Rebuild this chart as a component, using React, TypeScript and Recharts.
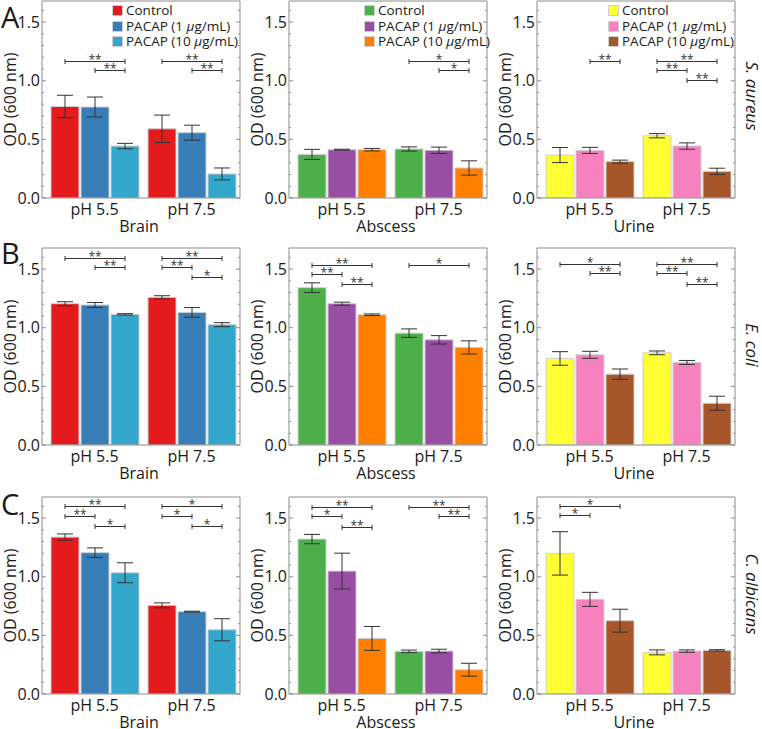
import React from "react";
import { BarChart, Bar, XAxis, YAxis, ErrorBar, Legend } from "recharts";

const categories = ["pH 5.5", "pH 7.5"];
const seriesNames = ["Control", "PACAP (1 μg/mL)", "PACAP (10 μg/mL)"];
const sites = ["Brain", "Abscess", "Urine"];
const species = ["S. aureus", "E. coli", "C. albicans"];
const panelLetters = ["A", "B", "C"];

const brainColors = ["#e41a1c", "#377eb8", "#33a6cc"];
const abscessColors = ["#4daf4a", "#984ea3", "#ff7f00"];
const urineColors = ["#ffff33", "#f781bf", "#a65628"];

const yTicks = [0, 0.1, 0.2, 0.3, 0.4, 0.5, 0.6, 0.7, 0.8, 0.9, 1.0, 1.1, 1.2, 1.3, 1.4, 1.5, 1.6];

// series-major: [control, pacap 1, pacap 10], each [pH 5.5, pH 7.5]
const aBrainMean = [[0.78, 0.59], [0.776, 0.557], [0.443, 0.205]];
const aBrainErr = [[0.096, 0.117], [0.085, 0.064], [0.023, 0.051]];
const aAbscessMean = [[0.372, 0.418], [0.412, 0.407], [0.412, 0.256]];
const aAbscessErr = [[0.043, 0.018], [0.004, 0.027], [0.011, 0.061]];
const aUrineMean = [[0.366, 0.531], [0.406, 0.443], [0.31, 0.227]];
const aUrineErr = [[0.064, 0.018], [0.026, 0.027], [0.013, 0.027]];

const bBrainMean = [[1.205, 1.259], [1.194, 1.131], [1.114, 1.026]];
const bBrainErr = [[0.017, 0.014], [0.021, 0.041], [0.006, 0.017]];
const bAbscessMean = [[1.342, 0.954], [1.205, 0.897], [1.111, 0.832]];
const bAbscessErr = [[0.041, 0.036], [0.013, 0.036], [0.007, 0.056]];
const bUrineMean = [[0.738, 0.786], [0.769, 0.704], [0.604, 0.356]];
const bUrineErr = [[0.058, 0.016], [0.03, 0.017], [0.044, 0.06]];

const cBrainMean = [[1.338, 0.756], [1.205, 0.702], [1.034, 0.548]];
const cBrainErr = [[0.027, 0.021], [0.041, 0.004], [0.085, 0.094]];
const cAbscessMean = [[1.321, 0.364], [1.048, 0.366], [0.474, 0.207]];
const cAbscessErr = [[0.04, 0.011], [0.153, 0.016], [0.102, 0.055]];
const cUrineMean = [[1.199, 0.355], [0.807, 0.366], [0.625, 0.372]];
const cUrineErr = [[0.185, 0.021], [0.06, 0.01], [0.098, 0.006]];

// significance brackets: [category, fromBar, toBar, height, stars]
type Bracket = [number, number, number, number, string];
const aBrainSig: Bracket[] = [[0, 0, 2, 1.17, "**"], [0, 1, 2, 1.094, "**"], [1, 0, 2, 1.17, "**"], [1, 1, 2, 1.094, "**"]];
const aAbscessSig: Bracket[] = [[1, 0, 2, 1.17, "*"], [1, 1, 2, 1.094, "*"]];
const aUrineSig: Bracket[] = [[0, 1, 2, 1.17, "**"], [1, 0, 2, 1.17, "**"], [1, 0, 1, 1.094, "**"], [1, 1, 2, 1.003, "**"]];
const bBrainSig: Bracket[] = [[0, 0, 2, 1.595, "**"], [0, 1, 2, 1.518, "**"], [1, 0, 2, 1.595, "**"], [1, 0, 1, 1.518, "**"], [1, 1, 2, 1.433, "*"]];
const bAbscessSig: Bracket[] = [[0, 0, 2, 1.538, "**"], [0, 0, 1, 1.462, "**"], [0, 1, 2, 1.373, "**"], [1, 0, 2, 1.538, "*"]];
const bUrineSig: Bracket[] = [[0, 0, 2, 1.547, "*"], [0, 1, 2, 1.47, "**"], [1, 0, 2, 1.547, "**"], [1, 0, 1, 1.47, "**"], [1, 1, 2, 1.376, "**"]];
const cBrainSig: Bracket[] = [[0, 0, 2, 1.6, "**"], [0, 0, 1, 1.52, "**"], [0, 1, 2, 1.429, "*"], [1, 0, 2, 1.6, "*"], [1, 0, 1, 1.52, "*"], [1, 1, 2, 1.429, "*"]];
const cAbscessSig: Bracket[] = [[0, 0, 2, 1.597, "**"], [0, 0, 1, 1.517, "*"], [0, 1, 2, 1.42, "**"], [1, 0, 2, 1.597, "**"], [1, 1, 2, 1.52, "**"]];
const cUrineSig: Bracket[] = [[0, 0, 2, 1.602, "*"], [0, 0, 1, 1.526, "*"]];

const FONT = "'Open Sans', 'Noto Sans', sans-serif";
const INK = "#1a1a1a";
const FRAME = "#8c8c8c";
const SIG = "#333";
const PLOT_W = 198;
const PLOT_H = 197;
const AXIS_W = 45;
const AXIS_H = 45;
const Y_MAX = 1.68;
const PAD_L = 4;
const BAR = 28;
const GAP = 2;

const colLefts = [42, 289, 537];
const rowTops = [1, 248, 497];
const legendOffsets = [70, 75, 71];

const withMu = (s: string) => {
  const parts = s.split("μ");
  if (parts.length < 2) return s;
  return (
    <>
      {parts[0]}
      <i>μ</i>
      {parts[1]}
    </>
  );
};

const renderLegend = (props: any) => (
  <div style={{ fontFamily: FONT, fontSize: 13.5, color: INK, lineHeight: "15.5px" }}>
    {(props.payload || []).map((e: any, i: number) => (
      <div key={i} style={{ display: "flex", alignItems: "center", whiteSpace: "nowrap" }}>
        <span
          style={{
            display: "inline-block",
            width: 11,
            height: 11,
            background: e.color,
            border: "1px solid #d0d0d0",
            boxSizing: "border-box",
            marginRight: 3,
          }}
        />
        <span>{withMu(e.value)}</span>
      </div>
    ))}
  </div>
);

const makeYTick = (plotW: number) => (props: any) => {
  const { x, y, payload } = props;
  const v = payload.value;
  const major = Math.abs(v * 2 - Math.round(v * 2)) < 1e-6;
  const len = major ? 4 : 2;
  return (
    <g>
      <line x1={AXIS_W} x2={AXIS_W + len} y1={y} y2={y} stroke={FRAME} strokeWidth={1} />
      <line x1={AXIS_W + plotW - len} x2={AXIS_W + plotW} y1={y} y2={y} stroke={FRAME} strokeWidth={1} />
      {major && (
        <text x={x} y={y} dy="0.36em" textAnchor="end" fill={INK} fontSize={16} fontFamily={FONT}>
          {v.toFixed(1)}
        </text>
      )}
    </g>
  );
};

// brackets start at bar `k` of a category; the y position comes from the bar's own
// pixel height per unit, the other end from the bar spacing
const makeBracketLabel = (k: number, series: number[], brackets: Bracket[]) => (p: any) => {
  const vb = p.viewBox && p.viewBox.width !== undefined ? p.viewBox : p;
  const idx = typeof p.index === "number" ? p.index : series.indexOf(p.value);
  const list = brackets.filter(([cat, a]) => cat === idx && a === k);
  if (!list.length || !vb || !vb.height) return null;
  const base = vb.y + vb.height;
  const perUnit = vb.height / series[idx];
  const cx = vb.x + vb.width / 2;
  return (
    <g key={`br-${k}-${idx}`}>
      {list.map(([, a, b, h, stars], i) => {
        const x2 = cx + (b - a) * (vb.width + GAP);
        const py = Math.round(base - perUnit * h) + 0.5;
        return (
          <g key={i}>
            <line x1={cx} x2={x2} y1={py} y2={py} stroke={SIG} strokeWidth={1} />
            <line x1={cx} x2={cx} y1={py - 2.5} y2={py + 2.5} stroke={SIG} strokeWidth={1} />
            <line x1={x2} x2={x2} y1={py - 2.5} y2={py + 2.5} stroke={SIG} strokeWidth={1} />
            <text x={(cx + x2) / 2} y={py + 2} textAnchor="middle" fill={SIG} fontSize={12} fontFamily={FONT}>
              {stars}
            </text>
          </g>
        );
      })}
    </g>
  );
};

interface PanelProps {
  mean: number[][];
  err: number[][];
  colors: string[];
  site: string;
  brackets: Bracket[];
  left: number;
  top: number;
  legendX?: number;
}

function Panel({ mean, err, colors, site, brackets, left, top, legendX }: PanelProps) {
  const data = categories.map((c, i) => {
    const row: Record<string, string | number> = { cat: c };
    mean.forEach((s, k) => {
      row[`v${k}`] = s[i];
      row[`e${k}`] = err[k][i];
    });
    return row;
  });

  return (
    <div style={{ position: "absolute", left: left - AXIS_W, top: top - 1 }}>
      <BarChart
        width={AXIS_W + PLOT_W + 1}
        height={1 + PLOT_H + AXIS_H}
        data={data}
        margin={{ top: 0, right: 0, bottom: 0, left: 0 }}
        barSize={BAR}
        barGap={GAP}
      >
        <XAxis
          xAxisId="c"
          dataKey="cat"
          height={AXIS_H}
          padding={{ left: PAD_L, right: 0 }}
          axisLine={{ stroke: FRAME }}
          tickLine={false}
          tickSize={0}
          tickMargin={6}
          interval={0}
          tick={{ fill: INK, fontSize: 16, fontFamily: FONT }}
          label={(p: any) => {
            const vb = p.viewBox || {};
            return (
              <text
                x={vb.x + vb.width / 2 - PAD_L / 2}
                y={vb.y + 34}
                textAnchor="middle"
                fill={INK}
                fontSize={16}
                fontFamily={FONT}
              >
                {site}
              </text>
            );
          }}
        />
        <XAxis
          xAxisId="t"
          orientation="top"
          dataKey="cat"
          height={1}
          tick={false}
          tickLine={false}
          axisLine={{ stroke: FRAME }}
        />
        <YAxis
          width={AXIS_W}
          domain={[0, Y_MAX]}
          ticks={yTicks}
          interval={0}
          allowDataOverflow
          axisLine={{ stroke: FRAME }}
          tickLine={false}
          tickSize={0}
          tickMargin={2}
          tick={makeYTick(PLOT_W)}
          label={(p: any) => {
            const vb = p.viewBox || {};
            const cx = vb.x + 13;
            const cy = vb.y + vb.height / 2;
            return (
              <text
                x={cx}
                y={cy}
                transform={`rotate(-90 ${cx} ${cy})`}
                textAnchor="middle"
                dominantBaseline="central"
                fill={INK}
                fontSize={16}
                fontFamily={FONT}
              >
                OD (600 nm)
              </text>
            );
          }}
        />
        <YAxis
          yAxisId="r"
          orientation="right"
          width={1}
          domain={[0, Y_MAX]}
          allowDataOverflow
          tick={false}
          tickLine={false}
          axisLine={{ stroke: FRAME }}
        />
        {colors.map((col, k) => (
          <Bar
            key={k}
            xAxisId="c"
            dataKey={`v${k}`}
            name={seriesNames[k]}
            fill={col}
            stroke="#cfcfcf"
            strokeWidth={1}
            isAnimationActive={false}
            label={makeBracketLabel(k, mean[k], brackets)}
          >
            <ErrorBar dataKey={`e${k}`} width={8} stroke="#333" strokeWidth={1} direction="y" />
          </Bar>
        ))}
        {legendX !== undefined && (
          <Legend
            layout="vertical"
            align="center"
            verticalAlign="middle"
            content={renderLegend}
            wrapperStyle={{ left: AXIS_W + legendX, top: 3, width: 150, right: "auto", bottom: "auto" }}
          />
        )}
      </BarChart>
    </div>
  );
}

export default function App() {
  const means = [
    [aBrainMean, aAbscessMean, aUrineMean],
    [bBrainMean, bAbscessMean, bUrineMean],
    [cBrainMean, cAbscessMean, cUrineMean],
  ];
  const errs = [
    [aBrainErr, aAbscessErr, aUrineErr],
    [bBrainErr, bAbscessErr, bUrineErr],
    [cBrainErr, cAbscessErr, cUrineErr],
  ];
  const sigs = [
    [aBrainSig, aAbscessSig, aUrineSig],
    [bBrainSig, bAbscessSig, bUrineSig],
    [cBrainSig, cAbscessSig, cUrineSig],
  ];
  const palettes = [brainColors, abscessColors, urineColors];
  const letterBase = [28, 264, 515];
  const speciesY = [96, 345, 594];

  return (
    <div
      style={{
        position: "absolute",
        left: 0,
        top: 0,
        width: 762,
        height: 729,
        overflow: "hidden",
        background: "#fff",
        fontFamily: FONT,
      }}
    >
      {rowTops.map((top, r) =>
        colLefts.map((left, c) => (
          <Panel
            key={`${r}-${c}`}
            mean={means[r][c]}
            err={errs[r][c]}
            colors={palettes[c]}
            site={sites[c]}
            brackets={sigs[r][c]}
            left={left}
            top={top}
            legendX={r === 0 ? legendOffsets[c] : undefined}
          />
        ))
      )}
      <svg width={762} height={729} style={{ position: "absolute", left: 0, top: 0, pointerEvents: "none" }}>
        {panelLetters.map((l, r) => (
          <text key={l} x={1} y={letterBase[r]} fontSize={29} fontFamily={FONT} fill={INK}>
            {l}
          </text>
        ))}
        {species.map((s, r) => (
          <text
            key={s}
            x={752}
            y={speciesY[r]}
            transform={`rotate(90 752 ${speciesY[r]})`}
            textAnchor="middle"
            dominantBaseline="central"
            fontSize={17}
            fontStyle="italic"
            fontFamily={FONT}
            fill={INK}
          >
            {s}
          </text>
        ))}
      </svg>
    </div>
  );
}
